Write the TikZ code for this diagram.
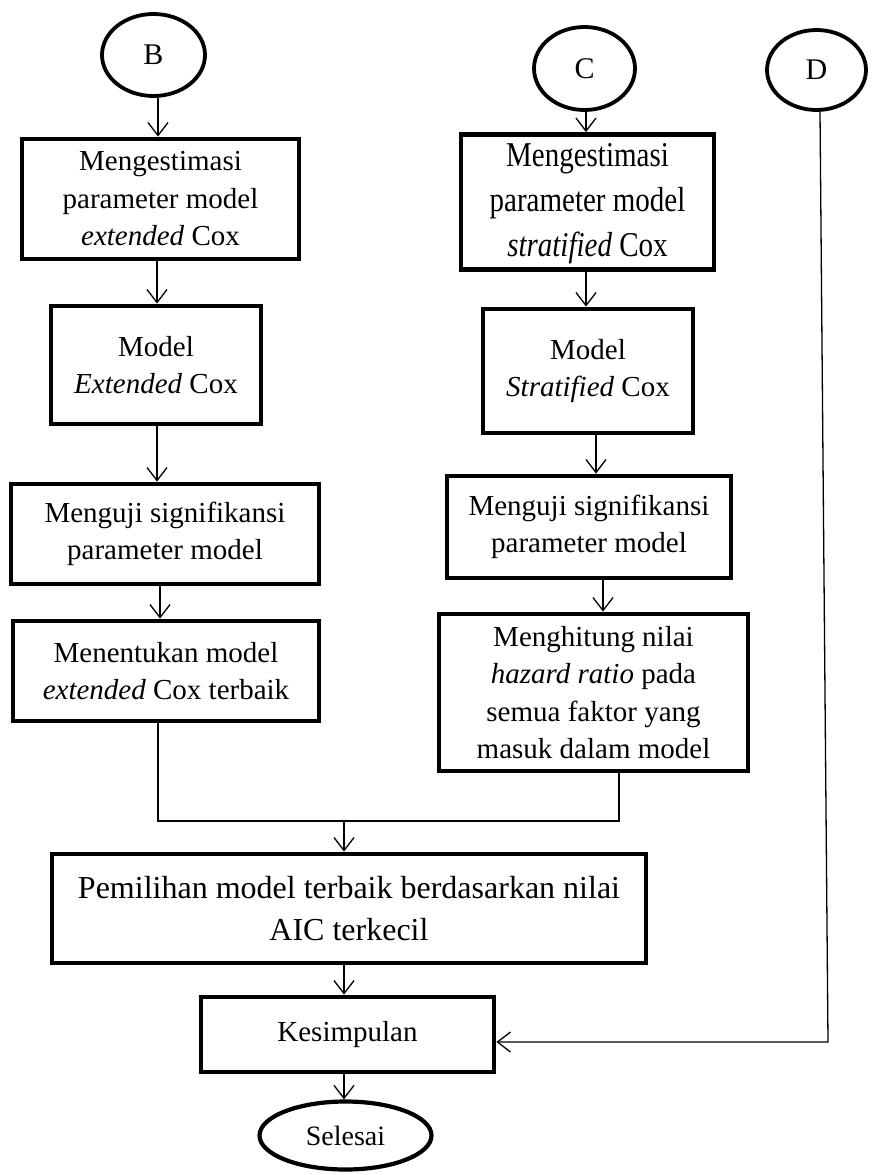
\documentclass[tikz,border=0pt]{standalone}
\usepackage{fontspec}
\setmainfont{Liberation Serif}
\usetikzlibrary{arrows.meta,shapes.geometric}
\tikzset{
  box/.style={draw, line width=4.8pt, rectangle, align=center, inner sep=0pt,
    font=\fontsize{29}{37.5}\selectfont},
  term/.style={draw, ellipse, line width=3.8pt, inner sep=0pt,
    font=\fontsize{30}{34}\selectfont},
  conn/.style={line width=1.3pt},
  arr/.style={conn, -{Straight Barb[length=13pt,width=20pt,line width=1.3pt]}},
}
\begin{document}
\begin{tikzpicture}[x=1pt,y=-1pt]
\useasboundingbox (0,0) rectangle (878,1175);

% terminals
\node[term, minimum width=103pt, minimum height=82pt] (B) at (153.5,55) {B};
\node[term, minimum width=101pt, minimum height=83pt] (C) at (584.5,68.5) {C};
\node[term, minimum width=99pt, minimum height=80pt] (D) at (816.5,70) {D};
\node[term, line width=4.2pt, font=\fontsize{28}{32}\selectfont, minimum width=172pt, minimum height=68pt] (sel) at (345.5,1135.5) {Selesai};

% column B
\node[box, minimum width=277pt, minimum height=120pt] (b1) at (160.5,199)
  {Mengestimasi\\parameter model\\\textit{extended} Cox};
\node[box, minimum width=210pt, minimum height=118pt] (b2) at (156,365)
  {Model\\\textit{Extended} Cox};
\node[box, minimum width=308pt, minimum height=100pt] (b3) at (165,534)
  {Menguji signifikansi\\parameter model};
\node[box, minimum width=306pt, minimum height=100pt] (b4) at (166,671)
  {Menentukan model\\\textit{extended} Cox terbaik};

% column C
\node[box, minimum width=253pt, minimum height=122pt] (c1) at (587.5,202)
  {\scalebox{1}[1.2]{\begin{tabular}{@{}c@{}}Mengestimasi\\parameter model\\\textit{stratified} Cox\end{tabular}}};
\node[box, minimum width=210pt, minimum height=124pt] (c2) at (588,371)
  {Model\\\textit{Stratified} Cox};
\node[box, minimum width=284pt, minimum height=102pt] (c3) at (589,527)
  {Menguji signifikansi\\parameter model};
\node[box, minimum width=309pt, minimum height=157pt] (c4) at (593.5,692.5)
  {Menghitung nilai\\\textit{hazard ratio} pada\\semua faktor yang\\masuk dalam model};

% bottom
\node[box, font=\fontsize{32}{42}\selectfont, minimum width=594pt, minimum height=109pt] (b5) at (349,908.5)
  {Pemilihan model terbaik berdasarkan nilai\\AIC terkecil};
\node[box, minimum width=293pt, minimum height=75pt] (b6) at (347.5,1034.5)
  {Kesimpulan};

% junction coordinates
\coordinate (jl) at (158,821);
\coordinate (jr) at (619,821);
\coordinate (j) at (344,821);
\coordinate (dc) at (828,1042);
\coordinate (xb) at (158,0);
\coordinate (xb2) at (157,0);
\coordinate (xb3) at (160,0);
\coordinate (xc1) at (586,0);
\coordinate (xc2) at (596,0);
\coordinate (xc3) at (603,0);
\coordinate (xd) at (820,0);

% column B connectors
\draw[arr] (B.south -| xb) -- (b1.north -| xb);
\draw[arr] (b1.south -| xb2) -- (b2.north -| xb2);
\draw[arr] (b2.south -| xb2) -- (b3.north -| xb2);
\draw[arr] (b3.south -| xb3) -- (b4.north -| xb3);

% column C connectors
\draw[arr] (C.south -| xc1) -- (c1.north -| xc1);
\draw[arr] (c1.south -| xc1) -- (c2.north -| xc1);
\draw[arr] (c2.south -| xc2) -- (c3.north -| xc2);
\draw[arr] (c3.south -| xc3) -- (c4.north -| xc3);

% merge
\draw[conn] (b4.south -| jl) -- (jl) -- (jr) -- (c4.south -| jr);
\draw[arr] (j) -- (b5.north -| j);
\draw[arr] (b5.south -| j) -- (b6.north -| j);
\draw[arr] (b6.south -| j) -- (sel.north -| j);

% D line
\draw[arr] (D.south -| xd) -- (dc) -- (b6.east |- dc);
\end{tikzpicture}
\end{document}
